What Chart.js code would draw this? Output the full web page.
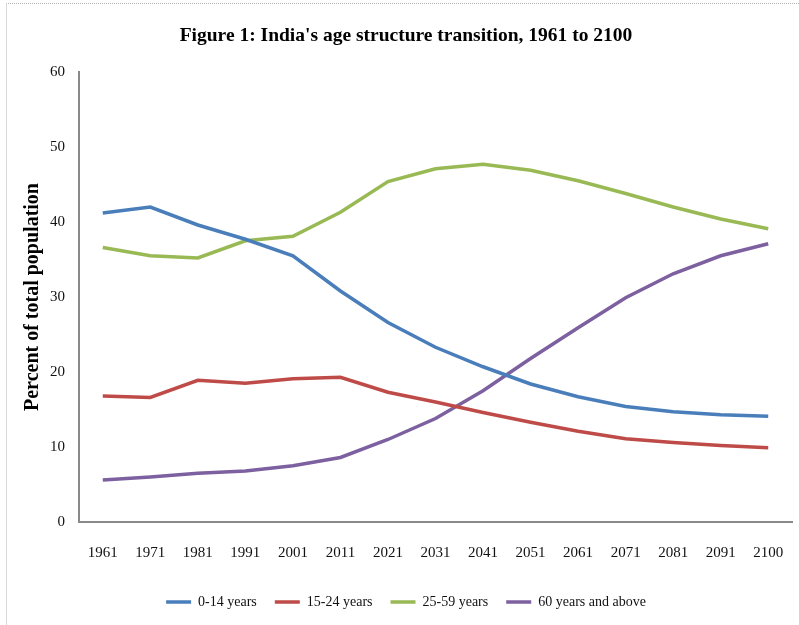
<!DOCTYPE html>
<html>
<head>
<meta charset="utf-8">
<script src="https://cdn.jsdelivr.net/npm/chart.js@4"></script>
<style>
  html, body { margin: 0; padding: 0; background: #fff; overflow: hidden; }
  #frame { position: absolute; left: 6px; top: 3px; width: 800px; height: 640px;
           border-top: 1px dotted #b0b0b0; border-left: 1px solid #d8d8d8; }
  #wrap { position: absolute; left: 0; top: 0; width: 799px; height: 619px; }
</style>
</head>
<body>
<div id="frame"></div>
<div id="wrap"><canvas id="ageChart" width="799" height="619"></canvas></div>
<script>
// census years and projections
var years = ['1961', '1971', '1981', '1991', '2001', '2011', '2021', '2031',
             '2041', '2051', '2061', '2071', '2081', '2091', '2100'];

// percent of total population
var age0to14 = [41.2, 42.0, 39.6, 37.7, 35.5, 30.8, 26.6, 23.3, 20.7, 18.4, 16.7, 15.4, 14.7, 14.3, 14.1];
var age15to24 = [16.8, 16.6, 18.9, 18.5, 19.1, 19.3, 17.3, 16.0, 14.6, 13.3, 12.1, 11.1, 10.6, 10.2, 9.9];
var age25to59 = [36.6, 35.5, 35.2, 37.5, 38.1, 41.3, 45.4, 47.1, 47.7, 46.9, 45.5, 43.8, 42.0, 40.4, 39.1];
var age60plus = [5.6, 6.0, 6.5, 6.8, 7.5, 8.6, 11.0, 13.8, 17.5, 21.8, 25.9, 29.9, 33.1, 35.5, 37.1];

var seriesNames = ['0-14 years', '15-24 years', '25-59 years', '60 years and above'];

var serif = "'Liberation Serif', 'Times New Roman', serif";

function makeLine(label, values, color) {
    return {
        label: label,
        data: values,
        borderColor: color,
        backgroundColor: color,
        borderWidth: 3.5,
        pointRadius: 0,
        pointHoverRadius: 0,
        tension: 0,
        fill: false
    };
}

var ctx = document.getElementById('ageChart').getContext('2d');
var chart = new Chart(ctx, {
    type: 'line',
    data: {
        labels: years,
        datasets: [
            makeLine(seriesNames[0], age0to14, '#4a7ebb'),
            makeLine(seriesNames[1], age15to24, '#be4b48'),
            makeLine(seriesNames[2], age25to59, '#98b954'),
            makeLine(seriesNames[3], age60plus, '#7d60a0')
        ]
    },
    options: {
        responsive: false,
        animation: false,
        layout: { autoPadding: false, padding: { left: 20, right: 7, top: 0, bottom: 0 } },
        plugins: {
            title: {
                display: true,
                text: "Figure 1: India's age structure transition, 1961 to 2100",
                color: '#000',
                font: { family: serif, size: 19.5, weight: 'bold' },
                padding: { top: 24, bottom: 24.6 }
            },
            legend: {
                position: 'bottom',
                labels: {
                    usePointStyle: true,
                    pointStyle: 'line',
                    pointStyleWidth: 25,
                    padding: 18,
                    color: '#111',
                    font: { family: serif, size: 14 }
                }
            },
            tooltip: { enabled: false }
        },
        scales: {
            x: {
                offset: true,
                // hidden tick marks keep the label gap without padding the right edge
                grid: { display: false, drawTicks: true, tickLength: 14 },
                border: { display: true, color: '#898989', width: 2 },
                ticks: {
                    color: '#111',
                    padding: 8,
                    maxRotation: 0,
                    autoSkip: false,
                    font: { family: serif, size: 15 }
                },
                afterFit: function (scale) { scale.height = 55; }
            },
            y: {
                min: 0,
                max: 60,
                grid: { display: false, drawTicks: false },
                border: { display: true, color: '#898989', width: 2 },
                ticks: {
                    stepSize: 10,
                    color: '#111',
                    padding: 14,
                    font: { family: serif, size: 15 }
                },
                title: {
                    display: true,
                    text: 'Percent of total population',
                    color: '#000',
                    font: { family: serif, size: 20, weight: 'bold' },
                    padding: { top: 1, bottom: 0 }
                },
                afterFit: function (scale) { scale.width = 59; }
            }
        }
    }
});
</script>
</body>
</html>
